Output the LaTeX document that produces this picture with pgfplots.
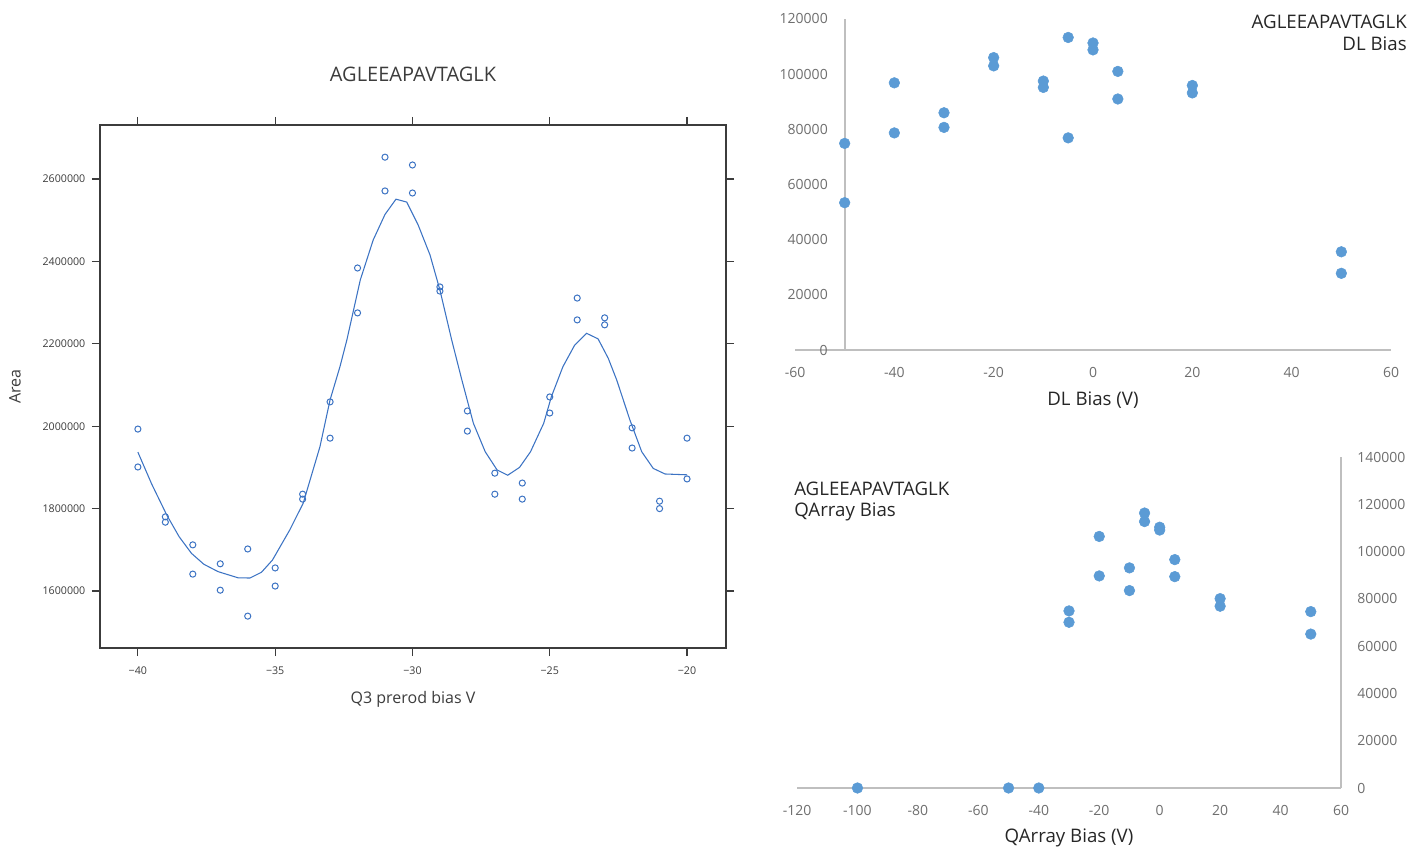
\documentclass[border=0pt]{standalone}
\usepackage{pgfplots}
\pgfplotsset{compat=1.18}
\usepackage{fontspec}
\setmainfont{Open Sans}
\definecolor{lblue}{RGB}{60,115,195}
\definecolor{xblue}{RGB}{91,155,213}
\definecolor{xgray}{RGB}{191,191,191}
\definecolor{tgray}{RGB}{110,110,110}
\definecolor{dk}{RGB}{60,60,60}
\begin{document}
\begin{tikzpicture}
\path[use as bounding box] (0,0) rectangle (1059pt,636.75pt);
% ---------------- left plot
\begin{axis}[
  at={(75pt,150.75pt)}, anchor=south west, scale only axis,
  width=469.5pt, height=392.25pt,
  xmin=-41.38, xmax=-18.58, ymin=1461650, ymax=2731068,
  scaled x ticks=false, scaled y ticks=false,
  axis line style={draw=dk, line width=0.9pt},
  tick align=outside, major tick length=6pt,
  every tick/.style={draw=dk, line width=0.9pt},
  xtick={-40,-35,-30,-25,-20},
  xticklabels={−40,−35,−30,−25,−20},
  ytick={1600000,1800000,2000000,2200000,2400000,2600000},
  yticklabels={1600000,1800000,2000000,2200000,2400000,2600000},
  ticklabel style={font=\fontsize{8}{9.5}\selectfont, text=dk},
  xticklabel style={yshift=-4.5pt},
  yticklabel style={xshift=-1.5pt},
  title={AGLEEAPAVTAGLK},
  title style={at={(axis description cs:0.5,1.0822)}, anchor=center, font=\fontsize{15}{18}\selectfont, text=dk},
  xlabel={Q3 prerod bias V},
  xlabel style={at={(axis description cs:0.5,-0.0975)}, anchor=center, font=\fontsize{12}{14}\selectfont, text=dk},
  ylabel={Area},
  ylabel style={at={(axis description cs:-0.1358,0.5)}, anchor=center, font=\fontsize{12}{14}\selectfont, text=dk},
]
\addplot[only marks, mark=o, mark size=2.3pt, mark options={draw=lblue, line width=0.75pt}] coordinates {
(-40,1993000) (-40,1901000)
(-39,1780000) (-39,1767000)
(-38,1712000) (-38,1641000)
(-37,1666000) (-37,1602000)
(-36,1702000) (-36,1539000)
(-35,1656000) (-35,1612000)
(-34,1835000) (-34,1823000)
(-33,2059000) (-33,1971000)
(-32,2384000) (-32,2275000)
(-31,2653000) (-31,2571000)
(-30,2634000) (-30,2566000)
(-29,2338000) (-29,2328000)
(-28,2037000) (-28,1988000)
(-27,1886000) (-27,1835000)
(-26,1862000) (-26,1823000)
(-25,2071000) (-25,2032000)
(-24,2311000) (-24,2258000)
(-23,2263000) (-23,2246000)
(-22,1996000) (-22,1947000)
(-21,1818000) (-21,1800000)
(-20,1971000) (-20,1872000)
};
\addplot[draw=lblue, line width=0.8pt, no marks] coordinates {
(-40,1937000) (-39.5,1860000) (-38.95,1784500) (-38.5,1732000) (-38.05,1691500)
(-37.6,1665000) (-37.08,1647000) (-36.35,1632000) (-35.92,1631500)
(-35.5,1645400) (-35.1,1675000) (-34.47,1748000) (-33.98,1813000)
(-33.37,1950000) (-33.0,2064000) (-32.64,2144500) (-32.39,2209000)
(-31.9,2355000) (-31.43,2452000) (-31.0,2514000) (-30.6,2551000)
(-30.21,2544000) (-29.79,2488000) (-29.36,2415500) (-29.0,2330600)
(-28.57,2209000) (-28.2,2112000) (-27.78,2007000) (-27.35,1938000)
(-26.92,1894000) (-26.53,1881000) (-26.1,1900000) (-25.7,1938000)
(-25.22,2007000) (-24.94,2071600) (-24.52,2144500) (-24.09,2197000)
(-23.66,2225500) (-23.24,2212000) (-22.87,2165000) (-22.56,2112000)
(-22.08,2015000) (-21.65,1938000) (-21.23,1897500) (-20.8,1884000)
(-20.0,1882000)
};
\end{axis}
% ---------------- top right
\begin{axis}[
  at={(596.25pt,374.25pt)}, anchor=south west, scale only axis,
  width=447pt, height=248.25pt,
  xmin=-60, xmax=60, ymin=0, ymax=120000, clip=false,
  scaled x ticks=false, scaled y ticks=false,
  axis x line=bottom, axis y line=left,
  x axis line style={draw=xgray, line width=1.6pt, -},
  y axis line style={draw=none},
  major tick length=0pt,
  xtick={-60,-40,-20,0,20,40,60},
  xticklabels={-60,-40,-20,0,20,40,60},
  ytick={0,20000,40000,60000,80000,100000,120000},
  yticklabels={0,20000,40000,60000,80000,100000,120000},
  ticklabel style={font=\fontsize{10.5}{12}\selectfont, text=tgray, inner sep=0pt},
  xticklabel style={anchor=center, yshift=-16.5pt},
  yticklabel style={anchor=east, xshift=24.75pt},
  xlabel={DL Bias (V)},
  xlabel style={at={(axis description cs:0.5,-0.151)}, anchor=center, font=\fontsize{14}{16}\selectfont, text=black!85},
]
\draw[xgray, line width=1.6pt] (axis cs:-50,0) -- (axis cs:-50,120000);
\addplot[only marks, mark=*, mark size=4pt, mark options={fill=xblue, draw=xblue}] coordinates {
(-50,74900) (-50,53400)
(-40,96850) (-40,78700)
(-30,86000) (-30,80700)
(-20,106000) (-20,103000)
(-10,97500) (-10,95200)
(-5,113300) (-5,76900)
(0,111300) (0,108800)
(5,101000) (5,91000)
(20,95900) (20,93200)
(50,35600) (50,27800)
};
\node[anchor=east, align=right, font=\fontsize{14}{16.5}\selectfont, text=black!85, inner sep=0pt] at (axis description cs:1.0268,0.9577) {AGLEEAPAVTAGLK\\DL Bias};
\end{axis}
% ---------------- bottom right
\begin{axis}[
  at={(597.75pt,45.75pt)}, anchor=south west, scale only axis,
  width=408pt, height=248.25pt,
  xmin=-120, xmax=60, ymin=0, ymax=140000, clip=false,
  scaled x ticks=false, scaled y ticks=false,
  axis x line=bottom, axis y line=right,
  axis line style={draw=xgray, line width=1.6pt, -},
  major tick length=0pt,
  xtick={-120,-100,-80,-60,-40,-20,0,20,40,60},
  xticklabels={-120,-100,-80,-60,-40,-20,0,20,40,60},
  ytick={0,20000,40000,60000,80000,100000,120000,140000},
  yticklabels={0,20000,40000,60000,80000,100000,120000,140000},
  ticklabel style={font=\fontsize{10.5}{12}\selectfont, text=tgray, inner sep=0pt},
  xticklabel style={anchor=center, yshift=-16.5pt},
  yticklabel style={anchor=west, xshift=12pt},
  xlabel={QArray Bias (V)},
  xlabel style={at={(axis description cs:0.5,-0.151)}, anchor=center, font=\fontsize{14}{16}\selectfont, text=black!85},
]
\addplot[only marks, mark=*, mark size=4pt, mark options={fill=xblue, draw=xblue}] coordinates {
(-100,0) (-50,0) (-40,0)
(-30,74900) (-30,70100)
(-20,106400) (-20,89700)
(-10,93100) (-10,83500)
(-5,116300) (-5,112700)
(0,110300) (0,109100)
(5,96600) (5,89400)
(20,80100) (20,76900)
(50,74600) (50,65100)
};
\node[anchor=west, align=left, font=\fontsize{14}{16.5}\selectfont, text=black!85, inner sep=0pt] at (axis description cs:-0.0055,0.8656) {AGLEEAPAVTAGLK\\QArray Bias};
\end{axis}
\end{tikzpicture}
\end{document}
